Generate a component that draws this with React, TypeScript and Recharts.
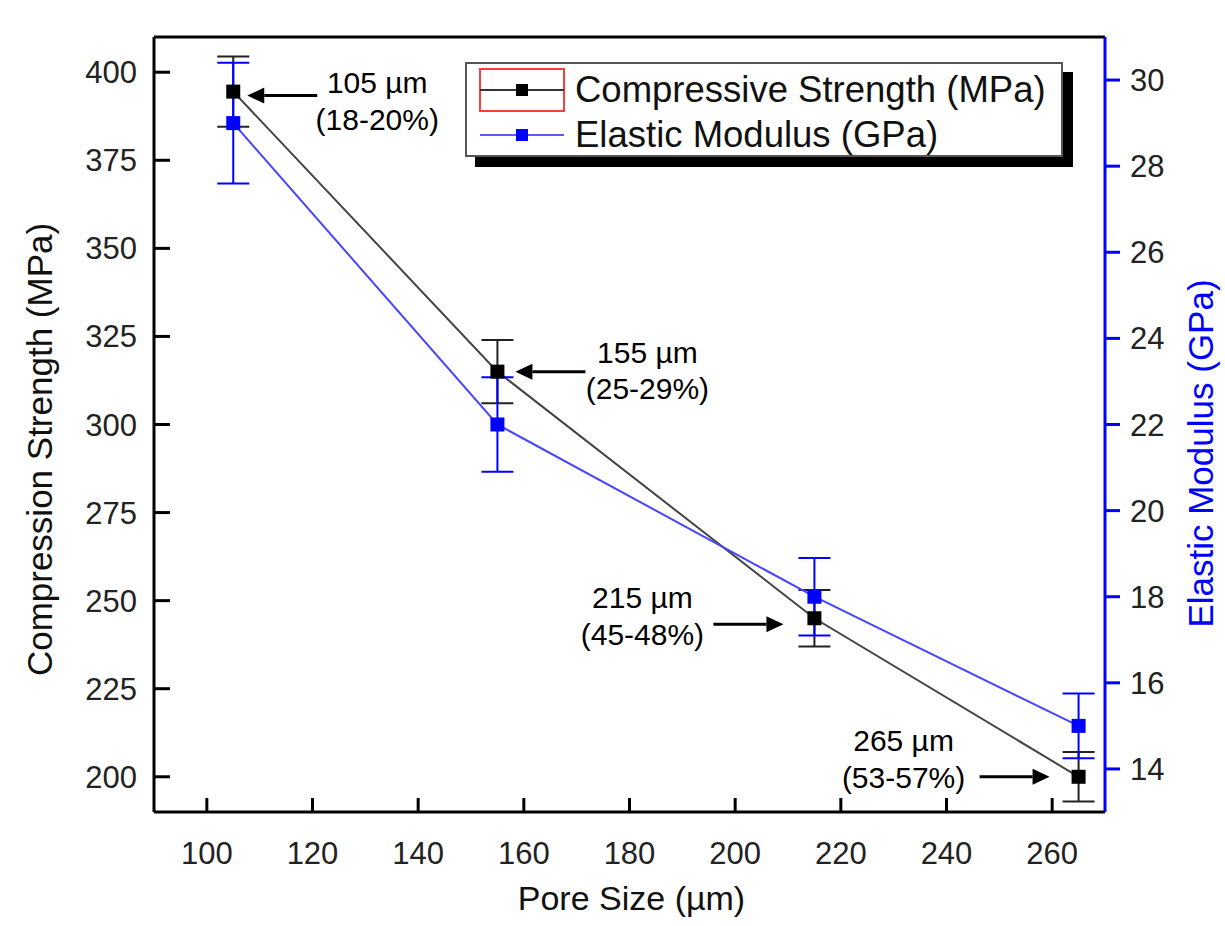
import { ComposedChart, Line, XAxis, YAxis, ErrorBar, Legend, ReferenceLine, ReferenceDot, Label } from "recharts";

// values
const poreSize = [105, 155, 215, 265];
const compressive = [394.5, 315, 245, 200];
const compressiveErr = [10, 9, 8, 7];
const elastic = [29, 22, 18, 15];
const elasticErr = [1.4, 1.1, 0.9, 0.75];

const xTicks = [100, 120, 140, 160, 180, 200, 220, 240, 260];
const leftTicks = [200, 225, 250, 275, 300, 325, 350, 375, 400];
const rightTicks = [14, 16, 18, 20, 22, 24, 26, 28, 30];

const poreLabels = ["105 µm", "155 µm", "215 µm", "265 µm"];
const porosityLabels = ["(18-20%)", "(25-29%)", "(45-48%)", "(53-57%)"];

const seriesNames = ["Compressive Strength (MPa)", "Elastic Modulus (GPa)"];

const data = poreSize.map((p, i) => ({
    pore: p,
    cs: compressive[i],
    csErr: compressiveErr[i],
    em: elastic[i],
    emErr: elasticErr[i],
}));

// pixel offsets of the callouts, relative to each compressive-strength marker
const callouts = [
    { tx: 144, ty1: 1, ty2: 38, tail: 84, tip: 14, ay: 4 },
    { tx: 150, ty1: -9, ty2: 27, tail: 88, tip: 18, ay: 0 },
    { tx: -172, ty1: -10, ty2: 27, tail: -101, tip: -31, ay: 6 },
    { tx: -175, ty1: -26, ty2: 11, tail: -99, tip: -29, ay: 0 },
];

const FONT = "'Liberation Sans', Arial, sans-serif";
const BLUE = "#0000ff";
const TICK_FILL = "#222";

const squareDot = (fill: string) => (props: any) => {
    const { cx, cy, index } = props;
    return <rect key={`dot-${fill}-${index}`} x={cx - 7} y={cy - 7} width={14} height={14} fill={fill} />;
};

// inward ticks: the tick mark is drawn together with its label
const LeftTick = (props: any) => {
    const { x, y, payload } = props;
    return (
        <g>
            <line x1={x + 17} y1={y} x2={x + 33} y2={y} stroke="#000" strokeWidth={3} />
            <text x={x} y={y} dy="0.355em" textAnchor="end" fontSize={31} fontFamily={FONT} fill={TICK_FILL}>
                {payload.value}
            </text>
        </g>
    );
};

const BottomTick = (props: any) => {
    const { x, y, payload } = props;
    return (
        <g>
            <line x1={x} y1={y - 30} x2={x} y2={y - 44} stroke="#000" strokeWidth={3} />
            <text x={x} y={y} dy="0.71em" textAnchor="middle" fontSize={31} fontFamily={FONT} fill={TICK_FILL}>
                {payload.value}
            </text>
        </g>
    );
};

const Callout = (props: any) => {
    const { cx, cy, i } = props;
    const c = callouts[i];
    const tipX = cx + c.tip;
    const tailX = cx + c.tail;
    const ay = cy + c.ay;
    const dir = Math.sign(c.tail - c.tip);
    const head = 17;
    return (
        <g>
            <line x1={tailX} y1={ay} x2={tipX + dir * head} y2={ay} stroke="#000" strokeWidth={3} />
            <polygon
                points={`${tipX},${ay} ${tipX + dir * head},${ay - 8} ${tipX + dir * head},${ay + 8}`}
                fill="#000"
            />
            <text x={cx + c.tx} y={cy + c.ty1} textAnchor="middle" fontSize={30} fontFamily={FONT} fill="#000">
                {poreLabels[i]}
            </text>
            <text x={cx + c.tx} y={cy + c.ty2} textAnchor="middle" fontSize={30} fontFamily={FONT} fill="#000">
                {porosityLabels[i]}
            </text>
        </g>
    );
};

const LegendBox = (props: any) => {
    const payload = props.payload || [];
    const colors = [
        { line: "#333", mark: "#000" },
        { line: "#5a5aff", mark: BLUE },
    ];
    return (
        <div
            style={{
                position: "relative",
                width: 598,
                height: 95,
                border: "2px solid #555",
                boxSizing: "border-box",
                background: "#fff",
                boxShadow: "10px 10px 0 #000",
                fontFamily: FONT,
                fontSize: 36.5,
                color: "#111",
            }}
        >
            {payload.map((entry: any, i: number) => (
                <div
                    key={`leg-${i}`}
                    style={{ position: "absolute", left: 0, top: 4 + i * 45, height: 44, display: "flex", alignItems: "center" }}
                >
                    <svg width={108} height={44} style={{ display: "block" }}>
                        {i === 0 && <rect x={13} y={1} width={84} height={42} fill="none" stroke="#ff3b3b" strokeWidth={2} />}
                        <line x1={13} y1={22} x2={97} y2={22} stroke={colors[i].line} strokeWidth={2} />
                        <rect x={49} y={16} width={12} height={12} fill={colors[i].mark} />
                    </svg>
                    <span style={{ lineHeight: "44px", whiteSpace: "nowrap" }}>{entry.value}</span>
                </div>
            ))}
        </div>
    );
};

export default function App() {
    return (
        <div style={{ position: "absolute", left: 0, top: 0, background: "#fff" }}>
            <ComposedChart width={1225} height={926} data={data} margin={{ top: 37, right: 0, bottom: 0, left: 0 }}>
                <XAxis
                    dataKey="pore"
                    type="number"
                    domain={[90, 270]}
                    ticks={xTicks}
                    allowDataOverflow
                    height={114}
                    tickSize={0}
                    tickMargin={30}
                    tick={<BottomTick />}
                    tickLine={false}
                    axisLine={{ stroke: "#000", strokeWidth: 3 }}
                >
                    <Label
                        content={(p: any) => {
                            const vb = p.viewBox || { x: 154, y: 812, width: 951 };
                            return (
                                <text x={vb.x + vb.width / 2 + 2} y={vb.y + 98} textAnchor="middle" fontSize={34} fontFamily={FONT} fill="#111">
                                    Pore Size (µm)
                                </text>
                            );
                        }}
                    />
                </XAxis>
                <YAxis
                    yAxisId="left"
                    type="number"
                    domain={[190, 410]}
                    ticks={leftTicks}
                    allowDataOverflow
                    width={154}
                    tickSize={0}
                    tickMargin={17}
                    tick={<LeftTick />}
                    tickLine={false}
                    axisLine={{ stroke: "#000", strokeWidth: 3 }}
                >
                    <Label
                        content={(p: any) => {
                            const vb = p.viewBox || { x: 0, y: 37, height: 775 };
                            const x = vb.x + 52;
                            const y = vb.y + vb.height / 2 + 25;
                            return (
                                <text x={x} y={y} transform={`rotate(-90 ${x} ${y})`} textAnchor="middle" fontSize={35} fontFamily={FONT} fill="#111">
                                    Compression Strength (MPa)
                                </text>
                            );
                        }}
                    />
                </YAxis>
                <YAxis
                    yAxisId="right"
                    orientation="right"
                    type="number"
                    domain={[13, 31]}
                    ticks={rightTicks}
                    allowDataOverflow
                    width={120}
                    tickSize={15}
                    tickMargin={10}
                    tick={{ fill: TICK_FILL, fontSize: 31, fontFamily: FONT }}
                    axisLine={{ stroke: BLUE, strokeWidth: 3 }}
                    tickLine={{ stroke: BLUE, strokeWidth: 3 }}
                >
                    <Label
                        content={(p: any) => {
                            const vb = p.viewBox || { x: 1105, y: 37, height: 775 };
                            const x = vb.x + 108;
                            const y = vb.y + vb.height / 2 + 29;
                            return (
                                <text x={x} y={y} transform={`rotate(-90 ${x} ${y})`} textAnchor="middle" fontSize={35} fontFamily={FONT} fill={BLUE}>
                                    Elastic Modulus (GPa)
                                </text>
                            );
                        }}
                    />
                </YAxis>

                <ReferenceLine yAxisId="left" y={410} stroke="#000" strokeWidth={3} ifOverflow="visible" />

                <Line
                    yAxisId="left"
                    dataKey="cs"
                    name={seriesNames[0]}
                    stroke="#444"
                    strokeWidth={2}
                    dot={squareDot("#000")}
                    activeDot={false}
                    isAnimationActive={false}
                >
                    <ErrorBar dataKey="csErr" width={16} stroke="#222" strokeWidth={2} direction="y" isAnimationActive={false} />
                </Line>
                <Line
                    yAxisId="right"
                    dataKey="em"
                    name={seriesNames[1]}
                    stroke="#4646ff"
                    strokeWidth={2}
                    dot={squareDot(BLUE)}
                    activeDot={false}
                    isAnimationActive={false}
                >
                    <ErrorBar dataKey="emErr" width={16} stroke={BLUE} strokeWidth={2} direction="y" isAnimationActive={false} />
                </Line>

                {poreSize.map((p, i) => (
                    <ReferenceDot
                        key={`callout-${p}`}
                        yAxisId="left"
                        x={p}
                        y={compressive[i]}
                        r={0}
                        ifOverflow="visible"
                        shape={(sp: any) => <Callout {...sp} i={i} />}
                    />
                ))}

                <Legend
                    layout="vertical"
                    verticalAlign="middle"
                    align="center"
                    content={LegendBox}
                    wrapperStyle={{ left: 465, top: 62, width: 610, height: 105 }}
                />
            </ComposedChart>
        </div>
    );
}
